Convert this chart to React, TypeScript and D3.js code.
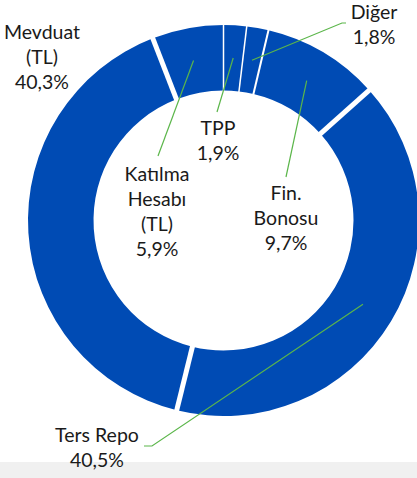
import React from "react";
import * as d3 from "d3";

const categories = ["TPP", "Diğer", "Fin. Bonosu", "Ters Repo", "Mevduat (TL)", "Katılma Hesabı (TL)"];
const values = [1.9, 1.8, 9.7, 40.5, 40.3, 5.9];
const labelLines = [
  ["TPP", "1,9%"],
  ["Diğer", "1,8%"],
  ["Fin.", "Bonosu", "9,7%"],
  ["Ters Repo", "40,5%"],
  ["Mevduat", "(TL)", "40,3%"],
  ["Katılma", "Hesabı", "(TL)", "5,9%"],
];
// label anchor (center x, first baseline y)
const labelPos = [
  [218, 135],
  [374, 19],
  [286, 200],
  [97, 442],
  [42, 39],
  [157, 181],
];
// leader line end points (null = none); optional elbow
const leaderEnds: (number[][] | null)[] = [
  [[217, 112]],
  [[342, 23], [346, 23]],
  [[286, 177]],
  [[152, 446], [144, 446]],
  null,
  [[158, 156]],
];
// gap width before each slice (at its start angle)
const gapWidths = [1.5, 1.5, 2, 5, 5, 5];

const W = 417, H = 478;
const cx = 223.5, cy = 220.5, rOuter = 195.5, rInner = 130;
const FILL = "#004BB4";
const LEADER = "#5BB64A";

export default function App() {
  const pie = d3.pie<number>().sort(null).value((d) => d);
  const arcs = pie(values);
  const arc = d3.arc<d3.PieArcDatum<number>>().innerRadius(rInner).outerRadius(rOuter);
  const mid = (rOuter + rInner) / 2;
  const pt = (a: number, r: number) => [cx + r * Math.sin(a), cy - r * Math.cos(a)];
  const lineH = 25;
  return (
    <svg width={W} height={H} style={{ position: "absolute", left: 0, top: 0, background: "#fff" }}>
      <rect x={0} y={462} width={W} height={H - 462} fill="#f0f0f0" />
      <g transform={`translate(${cx},${cy})`}>
        {arcs.map((a, i) => (
          <path key={categories[i]} d={arc(a) || ""} fill={FILL} />
        ))}
      </g>
      {arcs.map((a, i) => {
        const [x1, y1] = pt(a.startAngle, rInner - 2);
        const [x2, y2] = pt(a.startAngle, rOuter + 2);
        return <line key={"g" + i} x1={x1} y1={y1} x2={x2} y2={y2} stroke="#fff" strokeWidth={gapWidths[i]} />;
      })}
      {arcs.map((a, i) => {
        const ends = leaderEnds[i];
        if (!ends) return null;
        const m = (a.startAngle + a.endAngle) / 2;
        const start = pt(m, mid);
        const pts = [start, ...ends];
        return (
          <polyline
            key={"l" + i}
            points={pts.map((p) => p.join(",")).join(" ")}
            fill="none"
            stroke={LEADER}
            strokeWidth={1.2}
          />
        );
      })}
      {labelLines.map((lines, i) => (
        <text
          key={"t" + i}
          x={labelPos[i][0]}
          y={labelPos[i][1]}
          textAnchor="middle"
          fontFamily="Lato, 'Open Sans', sans-serif"
          fontSize={19.5}
          fill="#1a1a1a"
        >
          {lines.map((s, j) => (
            <tspan key={j} x={labelPos[i][0]} y={labelPos[i][1] + j * lineH}>
              {s}
            </tspan>
          ))}
        </text>
      ))}
    </svg>
  );
}
